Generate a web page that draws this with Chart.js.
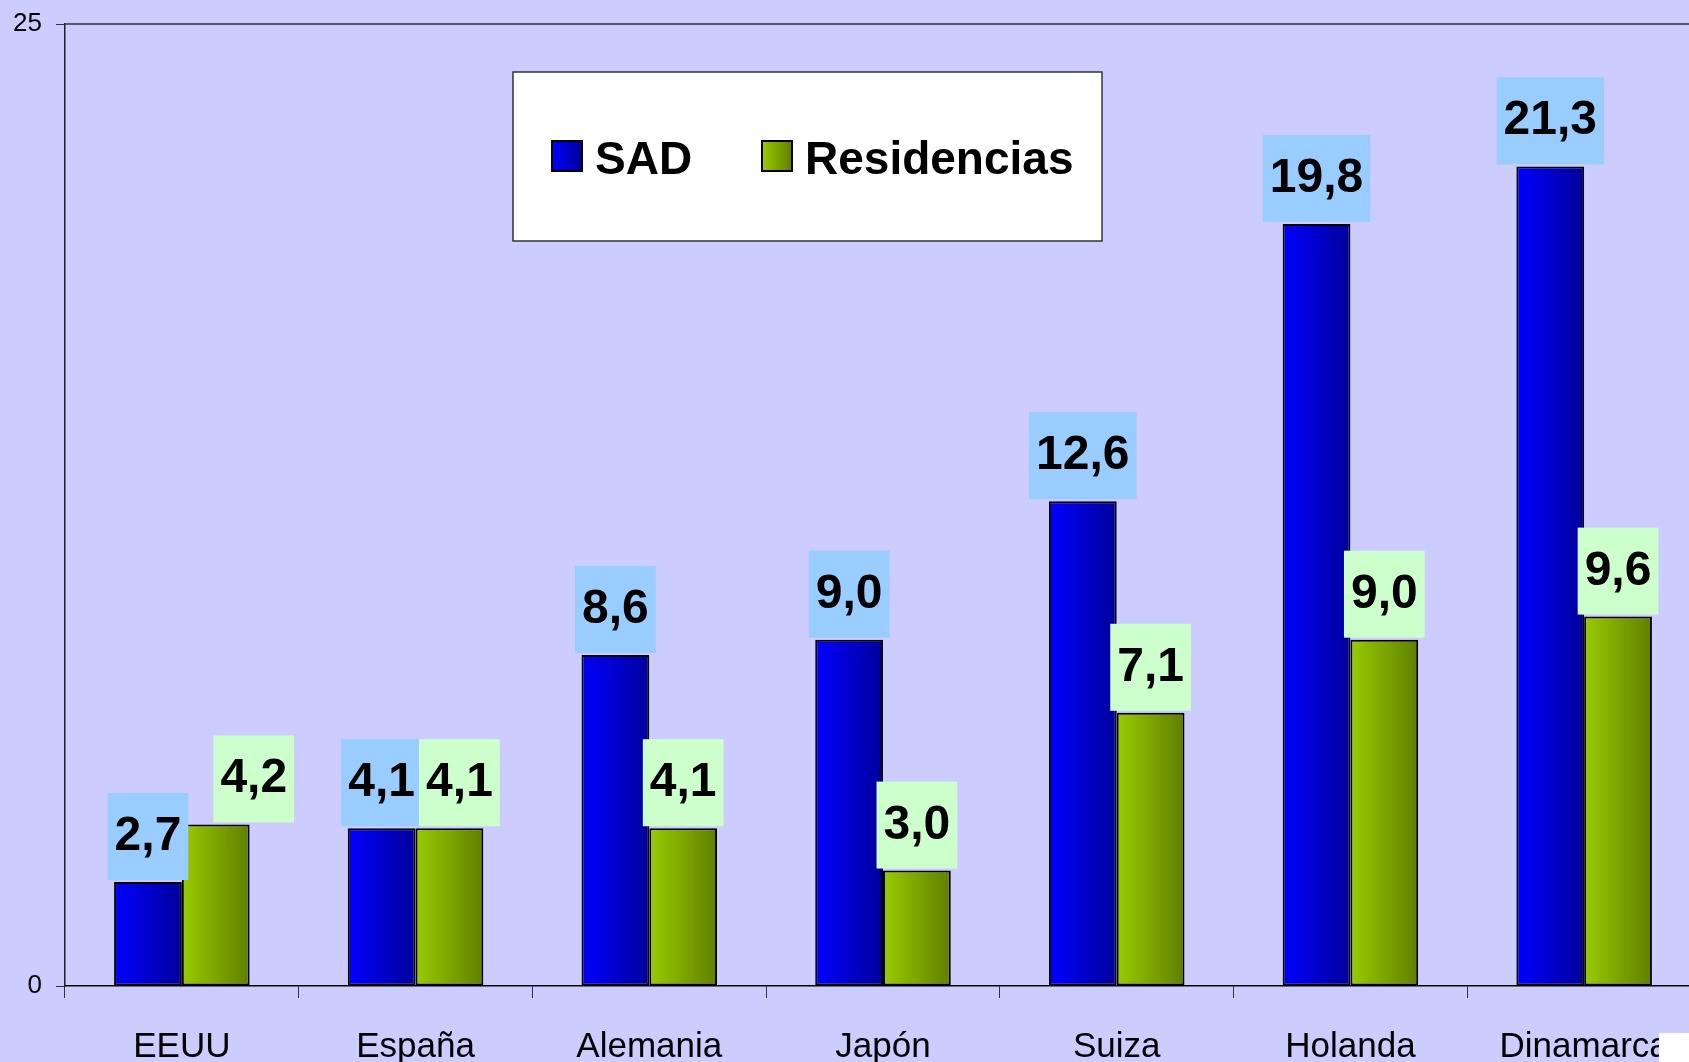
<!DOCTYPE html>
<html>
<head>
<meta charset="utf-8">
<script src="https://cdn.jsdelivr.net/npm/chart.js@4"></script>
<style>
  html, body { margin: 0; padding: 0; overflow: hidden; background: #ccccff; }
  #wrap { position: absolute; left: 0; top: 0; width: 1710px; height: 1100px; }
  #corner { position: absolute; left: 1659px; top: 1033px; width: 40px; height: 40px; background: #fff; }
</style>
</head>
<body>
<div id="wrap"><canvas id="chart"></canvas></div>
<div id="corner"></div>
<script>
// datos
const categories = ['EEUU', 'España', 'Alemania', 'Japón', 'Suiza', 'Holanda', 'Dinamarca']
const sadValues = [2.7, 4.1, 8.6, 9.0, 12.6, 19.8, 21.3]
const residenciasValues = [4.2, 4.1, 4.1, 3.0, 7.1, 9.0, 9.6]
const yMin = 0
const yMax = 25

const FONT = '"Liberation Sans", Arial, sans-serif'
const CAT_PCT = 0.58

const palette = [
  { from: '#0000ff', to: '#00009a', box: '#99ccff' },
  { from: '#99cc00', to: '#5f7f00', box: '#ccffcc' }
]

function barGradient (c) {
  const chart = c.chart
  const p = palette[c.datasetIndex]
  if (!chart.chartArea) return p.from
  const xs = chart.scales.x
  const center = xs.getPixelForValue(c.dataIndex)
  const bw = (xs.width / categories.length) * CAT_PCT / 2
  const left = center - bw + c.datasetIndex * bw
  const g = chart.ctx.createLinearGradient(left, 0, left + bw, 0)
  g.addColorStop(0, p.from)
  g.addColorStop(1, p.to)
  return g
}

// linea superior del area
const frameLine = {
  id: 'frameLine',
  beforeDatasetsDraw (chart) {
    const { ctx, chartArea } = chart
    ctx.save()
    ctx.strokeStyle = '#333'
    ctx.lineWidth = 1.5
    ctx.beginPath()
    ctx.moveTo(chartArea.left, chartArea.top)
    ctx.lineTo(chartArea.right, chartArea.top)
    ctx.stroke()
    ctx.restore()
  }
}

// etiquetas con fondo de color
const valueBoxes = {
  id: 'valueBoxes',
  afterDatasetsDraw (chart, args, opts) {
    const ctx = chart.ctx
    ctx.save()
    ctx.font = 'bold 48px ' + FONT
    ctx.textAlign = 'center'
    ctx.textBaseline = 'alphabetic'
    chart.data.datasets.forEach((ds, i) => {
      chart.getDatasetMeta(i).data.forEach((bar, j) => {
        const txt = ds.data[j].toFixed(1).replace('.', ',')
        const w = ctx.measureText(txt).width + 14
        const h = 87
        const cx = bar.x + (opts.nudge[i][j] || 0)
        const bottom = bar.y - 2
        ctx.fillStyle = palette[i].box
        ctx.fillRect(cx - w / 2, bottom - h, w, h)
        ctx.fillStyle = '#000'
        ctx.fillText(txt, cx, bottom - 30)
      })
    })
    ctx.restore()
  }
}

// leyenda en recuadro blanco
const boxLegend = {
  id: 'boxLegend',
  afterDraw (chart, args, opts) {
    const ctx = chart.ctx
    ctx.save()
    ctx.fillStyle = '#fff'
    ctx.fillRect(opts.x, opts.y, opts.w, opts.h)
    ctx.strokeStyle = '#333'
    ctx.lineWidth = 1.5
    ctx.strokeRect(opts.x, opts.y, opts.w, opts.h)
    ctx.font = 'bold 46px ' + FONT
    ctx.textBaseline = 'alphabetic'
    ctx.textAlign = 'left'
    chart.data.datasets.forEach((ds, i) => {
      const sx = opts.items[i]
      const sy = 141
      const g = ctx.createLinearGradient(sx, 0, sx + 30, 0)
      g.addColorStop(0, palette[i].from)
      g.addColorStop(1, palette[i].to)
      ctx.fillStyle = g
      ctx.fillRect(sx, sy, 30, 30)
      ctx.strokeStyle = '#000'
      ctx.lineWidth = 2
      ctx.strokeRect(sx, sy, 30, 30)
      ctx.fillStyle = '#000'
      ctx.fillText(ds.label, sx + 43, 174)
    })
    ctx.restore()
  }
}

new Chart(document.getElementById('chart'), {
  type: 'bar',
  data: {
    labels: categories,
    datasets: [
      {
        label: 'SAD',
        data: sadValues,
        backgroundColor: barGradient,
        borderColor: '#000',
        borderWidth: 2,
        borderSkipped: false
      },
      {
        label: 'Residencias',
        data: residenciasValues,
        backgroundColor: barGradient,
        borderColor: '#000',
        borderWidth: 2,
        borderSkipped: false
      }
    ]
  },
  options: {
    responsive: true,
    maintainAspectRatio: false,
    animation: false,
    datasets: {
      bar: { categoryPercentage: CAT_PCT, barPercentage: 1.0 }
    },
    layout: { padding: { top: 24, right: 9, left: 0, bottom: 0 } },
    plugins: {
      legend: { display: false },
      tooltip: { enabled: false },
      valueBoxes: {
        nudge: [[0, 0, 0, 0, 0, 0, 0], [38, 10, 0, 0, 0, 0, 0]]
      },
      boxLegend: { x: 513, y: 72, w: 589, h: 169, items: [552, 762] }
    },
    scales: {
      x: {
        afterFit: (s) => { s.height = 114; s.paddingLeft = 0; s.paddingRight = 0 },
        grid: { drawOnChartArea: false, offset: true, tickLength: 12, color: '#333' },
        border: { color: '#000', width: 1.5 },
        ticks: {
          color: '#000',
          padding: 28,
          font: { family: FONT, size: 35 }
        }
      },
      y: {
        min: yMin,
        max: yMax,
        afterFit: (s) => { s.width = 65; s.paddingTop = 0; s.paddingBottom = 0 },
        grid: { drawOnChartArea: false, tickLength: 9, color: '#333' },
        border: { color: '#222', width: 1.5 },
        ticks: {
          stepSize: 25,
          color: '#000',
          padding: 14,
          font: { family: FONT, size: 26 }
        }
      }
    }
  },
  plugins: [frameLine, valueBoxes, boxLegend]
})
</script>
</body>
</html>
